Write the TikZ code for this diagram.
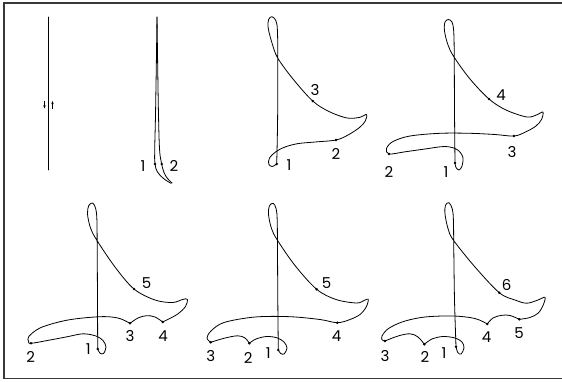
\documentclass[tikz,border=0pt]{standalone}
\usepackage{fontspec}
\setmainfont{Poppins}
\usetikzlibrary{arrows.meta}
\begin{document}
\begin{tikzpicture}[x=1pt,y=-1pt,
  curve/.style={line width=0.8pt,line join=round,line cap=round},
  lbl/.style={inner sep=0pt,font=\fontsize{15}{15}\selectfont},
  frameline/.style={line width=1.8pt,draw=black!78}]
\useasboundingbox (0,0) rectangle (562,381);
% frame
\draw[frameline] (562,3) -- (4,3) -- (4,378.5) -- (562,378.5);

% ---------- panel 1
\coordinate (a1t) at (48,17);
\coordinate (a1b) at (48,170);
\draw[curve] (a1t) -- (a1b);
\coordinate (ar1s) at (44.5,100.5);
\coordinate (ar1e) at (44.5,108.5);
\coordinate (ar2s) at (52.5,109);
\coordinate (ar2e) at (52.5,101);
\draw[line width=0.6pt,-{Stealth[length=3.2pt,width=2.4pt]}] (ar1s) -- (ar1e);
\draw[line width=0.6pt,-{Stealth[length=3.2pt,width=2.4pt]}] (ar2s) -- (ar2e);

% ---------- panel 2
\coordinate (b1) at (155,164);
\coordinate (b2) at (161.7,164);
\draw[curve] plot[smooth,tension=0.6] coordinates {(157,17) (156.4,60) (155.5,115) (154.7,150) (b1) (157.5,172) (163.5,178.5) (171,183.3)};
\draw[curve] plot[smooth,tension=0.6] coordinates {(157,17) (157.6,60) (158.5,115) (159.6,150) (b2) (164,172.5) (167.5,178.5) (172,183)};
\fill (b1) circle (1.4pt); \fill (b2) circle (1.4pt);
\node[lbl] (tb1) at (143,166) {1};
\node[lbl] (tb2) at (174,166) {2};

% ---------- panel 3
\coordinate (c1) at (276.7,164);
\coordinate (c2) at (336,140);
\coordinate (c3) at (312.7,101);
\draw[curve] plot[smooth,tension=0.55] coordinates {(c1) (277.6,120) (277.8,60) (277.4,30) (275.8,20.5) (272,16.7) (268.6,19.5) (268.2,28) (272,43) (277.7,58) (293,79) (c3) (329,111.5) (347,118) (360,117.3) (366.5,114.5) (365.3,121) (359.5,127.5) (348,135) (c2) (315,142) (298,143.6) (285,147) (275.5,152) (269.5,158) (268.7,164) (272,166.5) (c1)};
\fill (c1) circle (1.4pt); \fill (c2) circle (1.4pt); \fill (c3) circle (1.4pt);
\node[lbl] (tc3) at (315,90) {3};
\node[lbl] (tc2) at (336,154) {2};
\node[lbl] (tc1) at (289,165) {1};

% ---------- panel 4
\coordinate (d1) at (455,163);
\coordinate (d2) at (389,154);
\coordinate (d3) at (514,136);
\coordinate (d4) at (489,99);
\draw[curve] plot[smooth,tension=0.55] coordinates {(d1) (454.5,110) (454.2,50) (453.6,30) (452,22) (448.5,19.5) (445,22) (444.5,31) (448,45) (454,57) (470,79) (d4) (506,110) (527,117) (537.5,114.5) (543,112) (541.5,119.5) (536,126) (525.5,132) (d3) (495,134.5) (470,133.3) (440,133.3) (410,136) (393,141.5) (386.5,148.5) (d2) (405,151.8) (425,149) (445,146.5) (457,149.5) (462.8,157) (462,166) (459,170) (456,167.5) (d1)};
\fill (d1) circle (1.4pt); \fill (d2) circle (1.4pt); \fill (d3) circle (1.4pt); \fill (d4) circle (1.4pt);
\node[lbl] (td4) at (501,95) {4};
\node[lbl] (td3) at (512,152) {3};
\node[lbl] (td2) at (389,172) {2};
\node[lbl] (td1) at (446,172) {1};

% ---------- panel 5
\coordinate (e1) at (97.7,349);
\coordinate (e2) at (31,343.3);
\coordinate (e3) at (130,323.3);
\coordinate (e4) at (162.7,322);
\coordinate (e5) at (134,289);
\draw[curve] plot[smooth,tension=0.55] coordinates {(e1) (97.5,300) (97.2,250) (96.9,220) (95.8,209) (92.8,203) (88.8,205.5) (87.5,214) (90.5,228) (96.7,240) (115,267) (e5) (155,300) (172.5,302.5) (182.5,299.5) (187.3,299.3) (185.5,306.5) (177,314.5) (e4)};
\draw[curve] plot[smooth,tension=0.6] coordinates {(e4) (155,317) (146.5,315.7) (138,318) (e3)};
\draw[curve] plot[smooth,tension=0.55] coordinates {(e3) (118,318) (100,316.7) (68,320) (41,327.5) (28.8,336.5) (28.6,341.3) (e2) (50,340) (67,336.8) (83,333.8) (96,336) (103,340.5) (106,347) (103.5,353.5) (100,353.2) (e1)};
\fill (e1) circle (1.4pt); \fill (e2) circle (1.4pt); \fill (e3) circle (1.4pt); \fill (e4) circle (1.4pt); \fill (e5) circle (1.4pt);
\node[lbl] (te5) at (146.7,282.7) {5};
\node[lbl] (te4) at (163,335.7) {4};
\node[lbl] (te3) at (130,335.7) {3};
\node[lbl] (te2) at (30.7,356.7) {2};
\node[lbl] (te1) at (88.3,349) {1};

% ---------- panel 6
\coordinate (f1) at (278.3,350);
\coordinate (f2) at (249.3,343.3);
\coordinate (f3) at (210.7,342.3);
\coordinate (f4) at (337.3,322.7);
\coordinate (f5) at (316.7,289.3);
\draw[curve] plot[smooth,tension=0.55] coordinates {(f1) (277.8,300) (277.5,250) (277.2,220) (276.2,209) (273.3,203.3) (269.4,205.8) (268.5,214.5) (271.5,228.5) (277.3,240) (295,265.5) (f5) (336,299.5) (356.5,303) (364,300.5) (368.3,299.3) (366.2,307) (360,314.5) (350,319.5) (f4) (320,319.5) (290,316.7) (255,317) (224,322.5) (211,331) (207,338) (f3)};
\draw[curve] plot[smooth,tension=0.6] coordinates {(f3) (224,338.3) (237.5,335.8) (245,338) (f2)};
\draw[curve] plot[smooth,tension=0.55] coordinates {(f2) (256,339) (266.5,336.5) (277,337.8) (284,342) (287,348) (284,354) (280.5,353.3) (f1)};
\fill (f1) circle (1.4pt); \fill (f2) circle (1.4pt); \fill (f3) circle (1.4pt); \fill (f4) circle (1.4pt); \fill (f5) circle (1.4pt);
\node[lbl] (tf5) at (326.7,282.7) {5};
\node[lbl] (tf4) at (336.7,335.7) {4};
\node[lbl] (tf3) at (210.7,356) {3};
\node[lbl] (tf2) at (248.3,358.3) {2};
\node[lbl] (tf1) at (268.3,353.3) {1};

% ---------- panel 7
\coordinate (g1) at (456,346.7);
\coordinate (g2) at (424.3,344.3);
\coordinate (g3) at (385,341);
\coordinate (g4) at (487.3,324);
\coordinate (g5) at (519.3,319.3);
\coordinate (g6) at (499.3,292.7);
\draw[curve] plot[smooth,tension=0.55] coordinates {(g1) (454.5,300) (453.8,250) (453.4,220) (452.3,209) (449,202.7) (445.5,205.2) (445,214) (448,228.5) (453.3,240) (475,267) (g6) (515,300) (526.7,303.2) (538,300) (545,297.3) (543.2,305) (538.3,313) (530,317.5) (g5)};
\draw[curve] plot[smooth,tension=0.6] coordinates {(g5) (510,315.5) (501.7,315.3) (493,318) (g4)};
\draw[curve] plot[smooth,tension=0.55] coordinates {(g4) (475,318.5) (453.3,316) (425,317) (403.5,321.5) (388.5,328.5) (382,336) (382.2,340) (g3)};
\draw[curve] plot[smooth,tension=0.6] coordinates {(g3) (398,336) (410,333.8) (418,337) (g2)};
\draw[curve] plot[smooth,tension=0.55] coordinates {(g2) (432,339) (443,336.5) (455,338) (462,342) (464,348) (461,354) (457.8,352.5) (g1)};
\fill (g1) circle (1.4pt); \fill (g2) circle (1.4pt); \fill (g3) circle (1.4pt); \fill (g4) circle (1.4pt); \fill (g5) circle (1.4pt); \fill (g6) circle (1.4pt);
\node[lbl] (tg6) at (506.7,285) {6};
\node[lbl] (tg5) at (519,332.7) {5};
\node[lbl] (tg4) at (486.7,336.7) {4};
\node[lbl] (tg3) at (385,355.7) {3};
\node[lbl] (tg2) at (425,356.7) {2};
\node[lbl] (tg1) at (444,352.7) {1};
\end{tikzpicture}
\end{document}
